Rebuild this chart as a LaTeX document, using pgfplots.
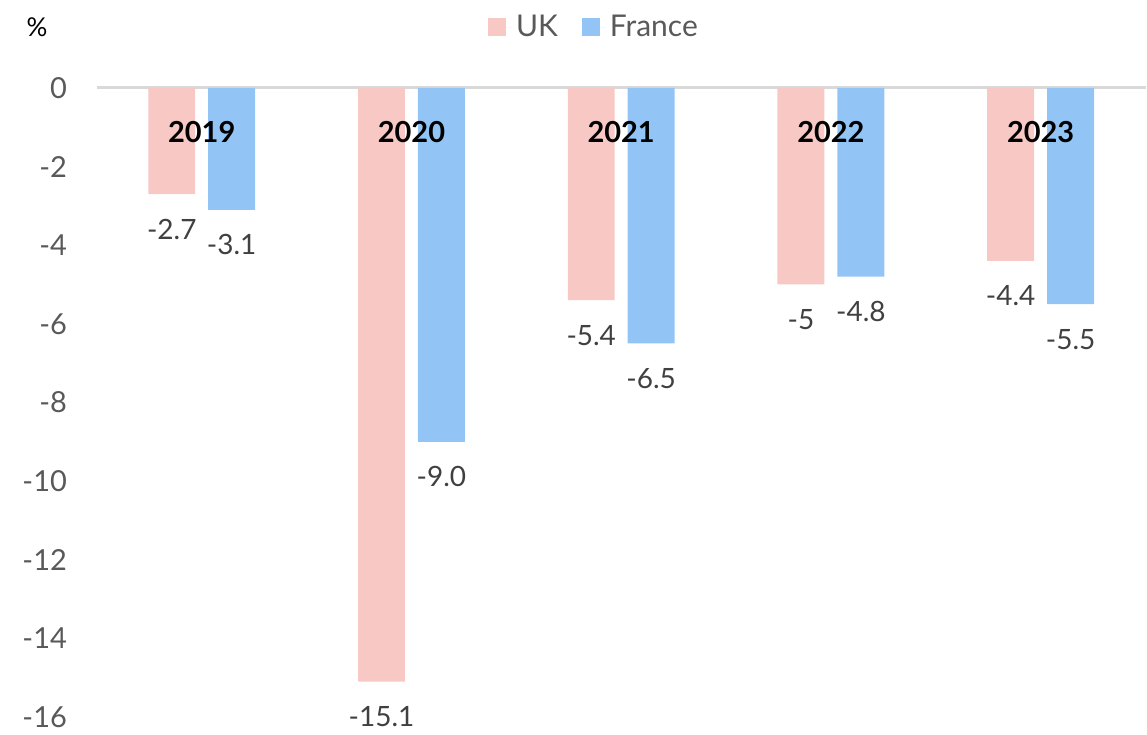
\documentclass[border=0pt]{standalone}
\usepackage{pgfplots}
\pgfplotsset{compat=1.18}
\usepackage{fontspec}
\setmainfont{Lato}
\usetikzlibrary{calc}
\definecolor{ukpink}{RGB}{247,200,196}
\definecolor{frblue}{RGB}{146,197,245}
\definecolor{ticktxt}{RGB}{89,89,89}
\definecolor{valtxt}{RGB}{64,64,64}
\definecolor{zeroline}{RGB}{217,217,217}

\begin{document}
\begin{tikzpicture}
\begin{axis}[name=ax, scale only axis, width=525pt, height=315pt,
  ybar=6.5pt, bar width=23.5pt,
  xmin=-0.5, xmax=4.5, ymin=-16, ymax=0,
  ytick={-16,-14,...,0}, xtick=\empty,
  axis x line*=top, axis y line*=left,
  y axis line style={draw=none},
  x axis line style={draw=zeroline, line width=1.5pt, -},
  ytick style={draw=none},
  /pgf/number format/assume math mode=true,
  yticklabel style={font=\fontsize{14.5}{16}\selectfont, text=ticktxt, xshift=-11.5pt},
  nodes near coords={\pgfplotspointmeta}, point meta=explicit symbolic,
  every node near coord/.append style={font=\fontsize{14}{16}\selectfont,
    text=valtxt, anchor=center, yshift=-17.5pt},
  legend style={at={(0.475,1.096)}, anchor=center, draw=none, fill=none,
    font=\fontsize{15}{17}\selectfont, text=ticktxt, legend columns=-1,
    /tikz/every even column/.append style={column sep=10pt}},
  legend image code/.code={\fill[#1] (0pt,-4.5pt) rectangle (9pt,4.5pt);
    \path (0pt,0pt) -- (12pt,0pt);},
  clip=false]
  \addplot[fill=ukpink, draw=none] coordinates {
    (0,-2.7) [-2.7] (1,-15.1) [-15.1] (2,-5.4) [-5.4] (3,-5) [-5] (4,-4.4) [-4.4]};
  \addlegendentry{UK}
  \addplot[fill=frblue, draw=none] coordinates {
    (0,-3.1) [-3.1] (1,-9.0) [-9.0] (2,-6.5) [-6.5] (3,-4.8) [-4.8] (4,-5.5) [-5.5]};
  \addlegendentry{France}
  % year labels inside the top of each group
  \pgfplotsinvokeforeach{0,...,4}{
    \node[font=\bfseries\fontsize{14.5}{16}\selectfont, text=black]
      at (axis cs:#1,-1.12) {\the\numexpr2019+#1\relax};
  }
\end{axis}
\node[font=\fontsize{13}{15}\selectfont, text=black] at ($(ax.north west)+(-30pt,30.5pt)$) {\%};
\path ($(ax.south west)+(-48.5pt,-6pt)$) rectangle ($(ax.north east)+(0,44pt)$);
\end{tikzpicture}
\end{document}
